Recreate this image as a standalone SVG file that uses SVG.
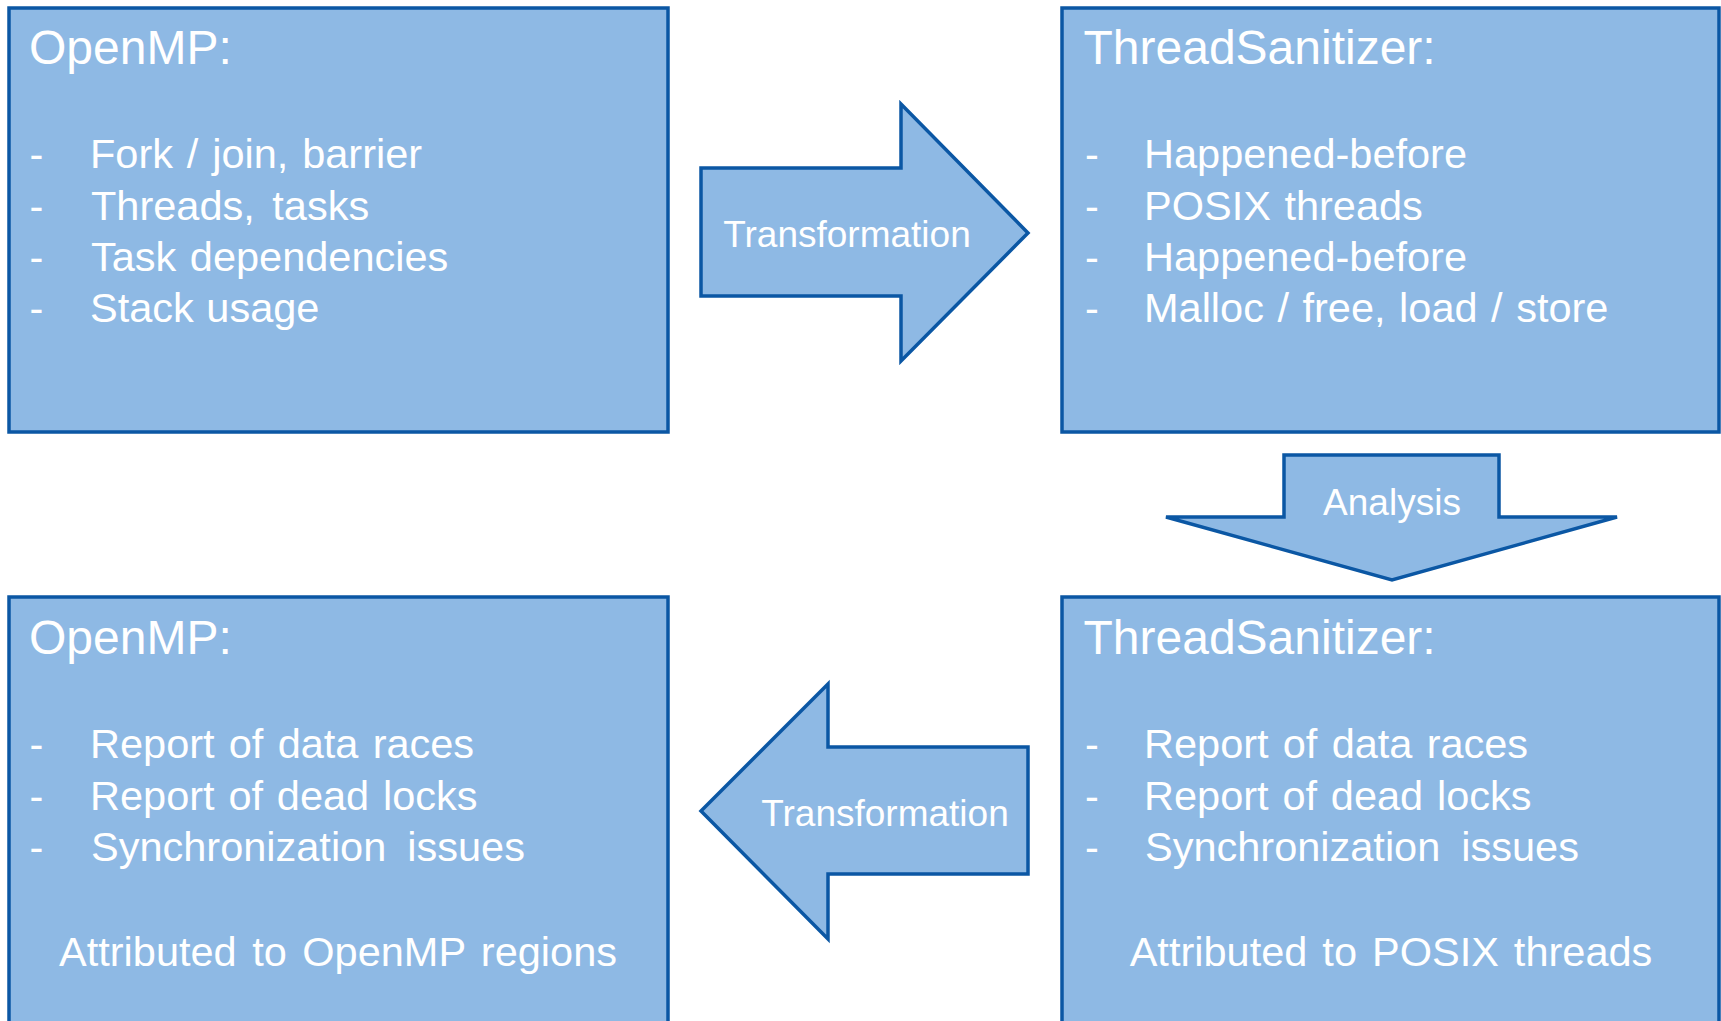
<svg xmlns="http://www.w3.org/2000/svg" width="1721" height="1021" viewBox="0 0 1721 1021">
  <style>
    .box { fill: #8EB9E4; stroke: #0B57A4; stroke-width: 3.5; }
    .arrow { fill: #8EB9E4; stroke: #0B57A4; stroke-width: 3.5; stroke-linejoin: miter; stroke-miterlimit: 4; }
    text { font-family: "Liberation Sans", Arial, sans-serif; fill: #FFFFFF; }
    .title { font-size: 48px; }
    .item { font-size: 41.5px; }
    .label { font-size: 37px; text-anchor: middle; }
    .foot { font-size: 41.5px; text-anchor: middle; }
  </style>
  <rect width="1721" height="1021" fill="#FFFFFF"/>

  <!-- OpenMP input constructs -->
  <g id="openmp-in">
    <rect class="box" x="9" y="8" width="659" height="424"/>
    <text class="title" x="29" y="64">OpenMP:</text>
    <text class="item" x="29.5" y="168">-</text>
    <text class="item" x="90" y="168" word-spacing="2.3">Fork / join, barrier</text>
    <text class="item" x="29.5" y="219.5">-</text>
    <text class="item" x="91" y="219.5" word-spacing="6">Threads, tasks</text>
    <text class="item" x="29.5" y="271">-</text>
    <text class="item" x="91" y="271" word-spacing="2">Task dependencies</text>
    <text class="item" x="29.5" y="322">-</text>
    <text class="item" x="90" y="322" word-spacing="1">Stack usage</text>
  </g>

  <!-- ThreadSanitizer model -->
  <g id="tsan-in">
    <rect class="box" x="1062" y="8" width="657" height="424"/>
    <text class="title" x="1083.5" y="64">ThreadSanitizer:</text>
    <text class="item" x="1085" y="168">-</text>
    <text class="item" x="1144" y="168">Happened-before</text>
    <text class="item" x="1085" y="219.5">-</text>
    <text class="item" x="1144" y="219.5" word-spacing="2">POSIX threads</text>
    <text class="item" x="1085" y="271">-</text>
    <text class="item" x="1144" y="271">Happened-before</text>
    <text class="item" x="1085" y="322">-</text>
    <text class="item" x="1144" y="322" word-spacing="2">Malloc / free, load / store</text>
  </g>

  <!-- OpenMP-level results -->
  <g id="openmp-out">
    <rect class="box" x="9" y="597" width="659" height="440"/>
    <text class="title" x="29" y="654">OpenMP:</text>
    <text class="item" x="29.5" y="758">-</text>
    <text class="item" x="90" y="758" word-spacing="2.7">Report of data races</text>
    <text class="item" x="29.5" y="810">-</text>
    <text class="item" x="90" y="810" word-spacing="2.3">Report of dead locks</text>
    <text class="item" x="29.5" y="861">-</text>
    <text class="item" x="91" y="861" word-spacing="9.5">Synchronization issues</text>
    <text class="foot" x="338" y="966" word-spacing="4">Attributed to OpenMP regions</text>
  </g>

  <!-- ThreadSanitizer results -->
  <g id="tsan-out">
    <rect class="box" x="1062" y="597" width="657" height="440"/>
    <text class="title" x="1083.5" y="654">ThreadSanitizer:</text>
    <text class="item" x="1085" y="758">-</text>
    <text class="item" x="1144" y="758" word-spacing="2.7">Report of data races</text>
    <text class="item" x="1085" y="810">-</text>
    <text class="item" x="1144" y="810" word-spacing="2.3">Report of dead locks</text>
    <text class="item" x="1085" y="861">-</text>
    <text class="item" x="1145" y="861" word-spacing="9.5">Synchronization issues</text>
    <text class="foot" x="1391" y="966" word-spacing="3.5">Attributed to POSIX threads</text>
  </g>

  <!-- block arrows between the stages -->
  <g id="connectors">
    <g id="transform-forward">
      <polygon class="arrow" points="701,168 901,168 901,104 1028,233 901,361 901,296 701,296"/>
      <text class="label" x="847" y="247">Transformation</text>
    </g>
    <g id="analysis">
      <polygon class="arrow" points="1284,455 1499,455 1499,517 1617,517 1392,580 1166,517 1284,517"/>
      <text class="label" x="1392" y="515">Analysis</text>
    </g>
    <g id="transform-back">
      <polygon class="arrow" points="1028,747 828,747 828,684 701,811 828,939 828,874 1028,874"/>
      <text class="label" x="885" y="826">Transformation</text>
    </g>
  </g>
</svg>
